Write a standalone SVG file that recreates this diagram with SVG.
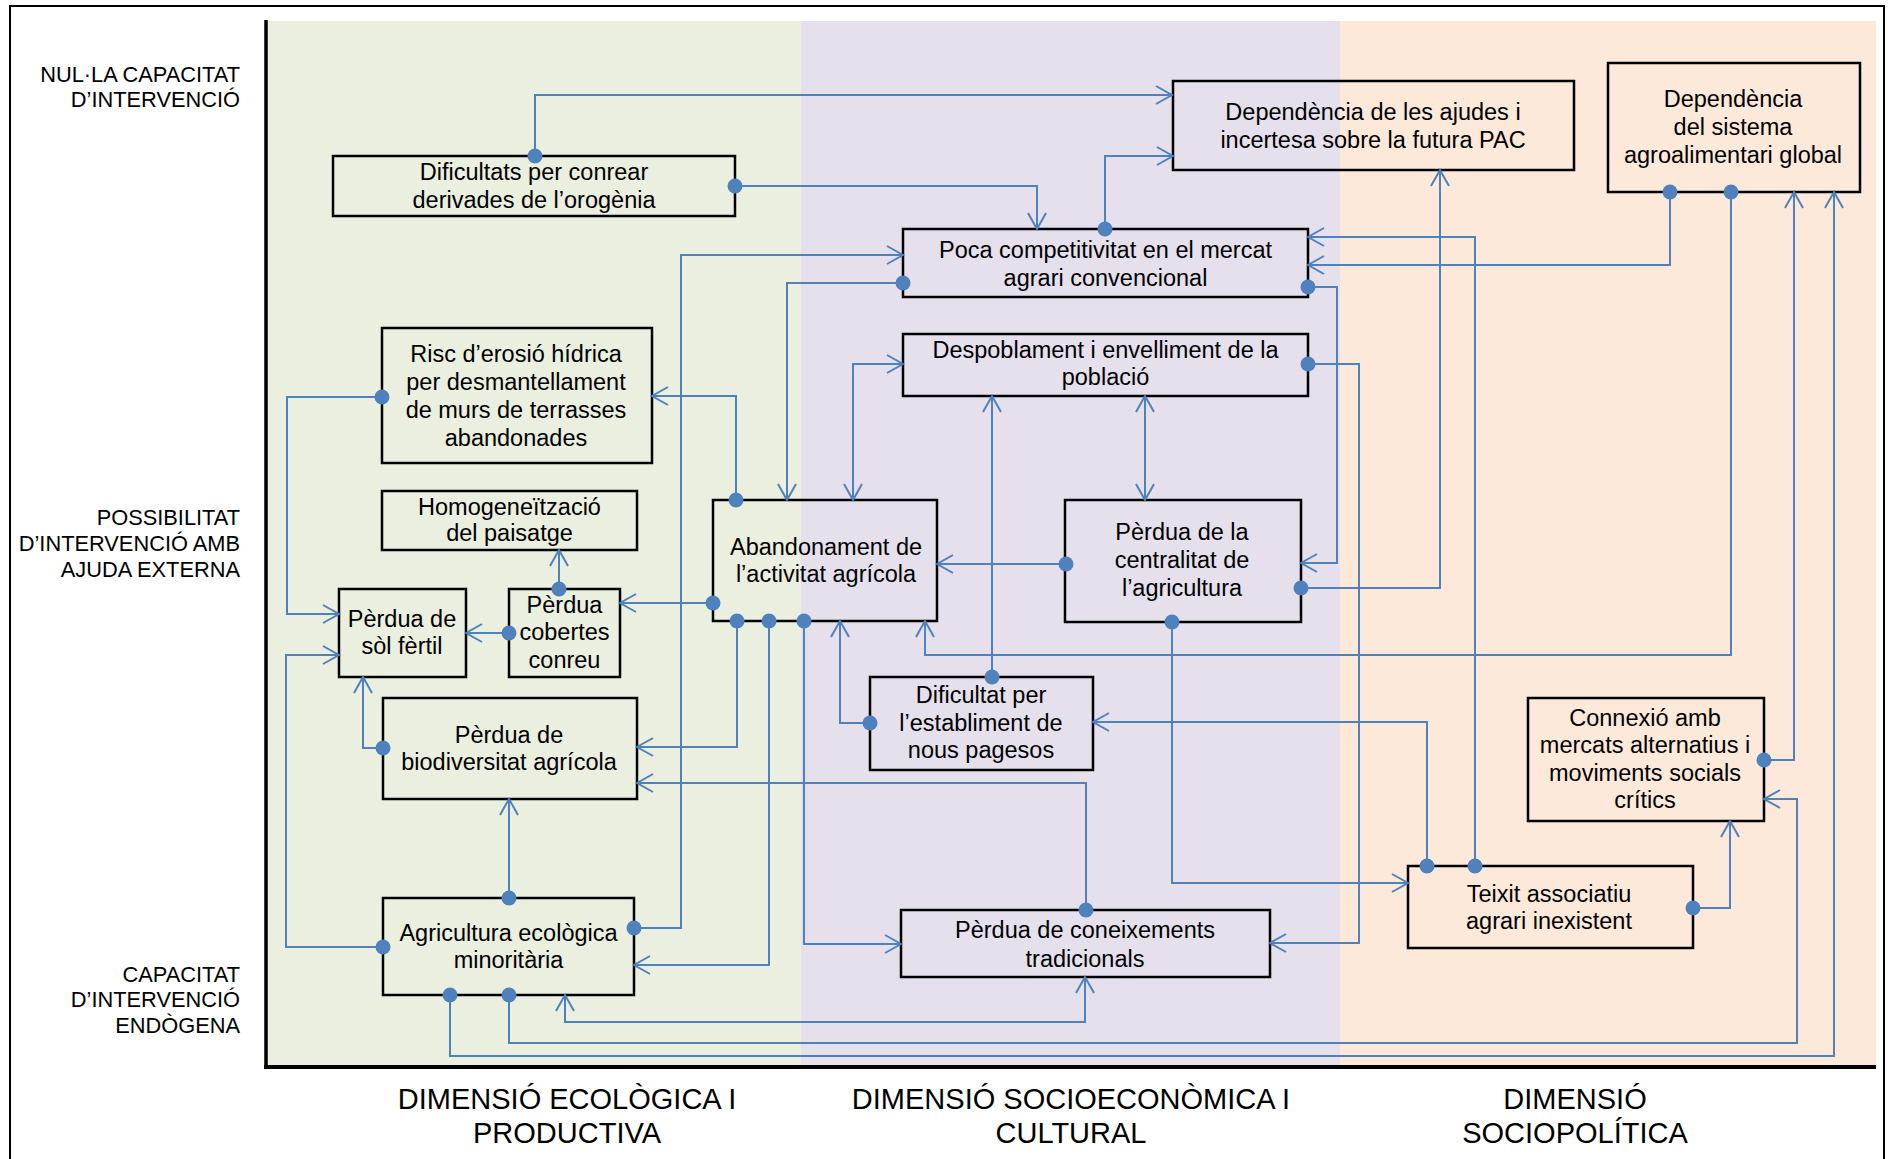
<svg xmlns="http://www.w3.org/2000/svg" width="1888" height="1159" viewBox="0 0 1888 1159">
<style>
.box{fill:none;stroke:#000;stroke-width:2.5}
.nt{font-family:"Liberation Sans",Arial,sans-serif;font-size:23.5px;fill:#000;text-anchor:middle}
.ax{font-family:"Liberation Sans",Arial,sans-serif;font-size:21.8px;fill:#000;text-anchor:end}
.dim{font-family:"Liberation Sans",Arial,sans-serif;font-size:29px;fill:#000;text-anchor:middle}
.c path{fill:none;stroke:#4F81BD;stroke-width:2;marker-start:url(#dot);marker-end:url(#arr)}
.c path.bi{marker-start:url(#arrs)}
</style>
<defs>
<marker id="arr" markerUnits="userSpaceOnUse" viewBox="0 0 20 20" markerWidth="20" markerHeight="20" refX="18" refY="10" orient="auto">
<path d="M2,1 L18,10 L2,19" fill="none" stroke="#4F81BD" stroke-width="2"/>
</marker>
<marker id="arrs" markerUnits="userSpaceOnUse" viewBox="0 0 20 20" markerWidth="20" markerHeight="20" refX="18" refY="10" orient="auto-start-reverse">
<path d="M2,1 L18,10 L2,19" fill="none" stroke="#4F81BD" stroke-width="2"/>
</marker>
<marker id="dot" markerUnits="userSpaceOnUse" viewBox="-9 -9 18 18" markerWidth="18" markerHeight="18" refX="0" refY="0" orient="auto">
<circle r="7.5" fill="#4F81BD"/>
</marker>
</defs>
<rect x="0" y="0" width="1888" height="1159" fill="#fff"/>
<rect x="10" y="6" width="1874" height="1170" fill="none" stroke="#000" stroke-width="2"/>
<g id="background">
<rect x="267" y="21" width="534" height="1045" fill="#EBEFDF"/>
<rect x="801" y="21" width="539" height="1045" fill="#E5E0EC"/>
<rect x="1340" y="21" width="536" height="1045" fill="#FDE9D9"/>
<line x1="266" y1="20" x2="266" y2="1069" stroke="#000" stroke-width="3.5"/>
<line x1="264" y1="1067" x2="1876" y2="1067" stroke="#000" stroke-width="4"/>
</g>
<g id="axis-labels">
<text class="ax" x="240" y="82">NUL·LA CAPACITAT</text>
<text class="ax" x="240" y="107">D’INTERVENCIÓ</text>
<text class="ax" x="240" y="525">POSSIBILITAT</text>
<text class="ax" x="240" y="551">D’INTERVENCIÓ AMB</text>
<text class="ax" x="240" y="577">AJUDA EXTERNA</text>
<text class="ax" x="240" y="982">CAPACITAT</text>
<text class="ax" x="240" y="1007">D’INTERVENCIÓ</text>
<text class="ax" x="240" y="1033">ENDÒGENA</text>
<text class="dim" x="567" y="1109">DIMENSIÓ ECOLÒGICA I</text>
<text class="dim" x="567" y="1143">PRODUCTIVA</text>
<text class="dim" x="1071" y="1109">DIMENSIÓ SOCIOECONÒMICA I</text>
<text class="dim" x="1071" y="1143">CULTURAL</text>
<text class="dim" x="1575" y="1109">DIMENSIÓ</text>
<text class="dim" x="1575" y="1143">SOCIOPOLÍTICA</text>
</g>
<g id="n-dificultats">
<rect class="box" x="333" y="156" width="402" height="60"/>
<text class="nt" x="534" y="180">Dificultats per conrear</text>
<text class="nt" x="534" y="207.5">derivades de l’orogènia</text>
</g>
<g id="n-risc">
<rect class="box" x="382" y="328" width="270" height="135"/>
<text class="nt" x="516" y="362">Risc d’erosió hídrica</text>
<text class="nt" x="516" y="390">per desmantellament</text>
<text class="nt" x="516" y="418">de murs de terrasses</text>
<text class="nt" x="516" y="446">abandonades</text>
</g>
<g id="n-homogeneitzacio">
<rect class="box" x="382" y="491" width="255" height="59"/>
<text class="nt" x="509.5" y="515">Homogeneïtzació</text>
<text class="nt" x="509.5" y="541">del paisatge</text>
</g>
<g id="n-sol">
<rect class="box" x="339" y="589" width="127" height="88"/>
<text class="nt" x="402" y="627">Pèrdua de</text>
<text class="nt" x="402" y="654">sòl fèrtil</text>
</g>
<g id="n-cobertes">
<rect class="box" x="509" y="589" width="111" height="88"/>
<text class="nt" x="564.5" y="613">Pèrdua</text>
<text class="nt" x="564.5" y="640">cobertes</text>
<text class="nt" x="564.5" y="668">conreu</text>
</g>
<g id="n-biodiversitat">
<rect class="box" x="383" y="698" width="254" height="101"/>
<text class="nt" x="509" y="743">Pèrdua de</text>
<text class="nt" x="509" y="770">biodiversitat agrícola</text>
</g>
<g id="n-agricultura">
<rect class="box" x="383" y="898" width="251" height="97"/>
<text class="nt" x="508.5" y="941">Agricultura ecològica</text>
<text class="nt" x="508.5" y="968">minoritària</text>
</g>
<g id="n-abandonament">
<rect class="box" x="713" y="500" width="224" height="121"/>
<text class="nt" x="826" y="555">Abandonament de</text>
<text class="nt" x="826" y="582">l’activitat agrícola</text>
</g>
<g id="n-poca">
<rect class="box" x="903" y="229" width="405" height="68"/>
<text class="nt" x="1105.5" y="258">Poca competitivitat en el mercat</text>
<text class="nt" x="1105.5" y="286">agrari convencional</text>
</g>
<g id="n-despoblament">
<rect class="box" x="903" y="334" width="405" height="62"/>
<text class="nt" x="1105.5" y="358">Despoblament i envelliment de la</text>
<text class="nt" x="1105.5" y="385">població</text>
</g>
<g id="n-centralitat">
<rect class="box" x="1065" y="500" width="236" height="122"/>
<text class="nt" x="1182" y="540">Pèrdua de la</text>
<text class="nt" x="1182" y="568">centralitat de</text>
<text class="nt" x="1182" y="596">l’agricultura</text>
</g>
<g id="n-establiment">
<rect class="box" x="870" y="677" width="223" height="93"/>
<text class="nt" x="981" y="703">Dificultat per</text>
<text class="nt" x="981" y="731">l’establiment de</text>
<text class="nt" x="981" y="758">nous pagesos</text>
</g>
<g id="n-coneixements">
<rect class="box" x="901" y="910" width="369" height="67"/>
<text class="nt" x="1085" y="938">Pèrdua de coneixements</text>
<text class="nt" x="1085" y="967">tradicionals</text>
</g>
<g id="n-ajudes">
<rect class="box" x="1173" y="81" width="401" height="89"/>
<text class="nt" x="1373" y="120">Dependència de les ajudes i</text>
<text class="nt" x="1373" y="148">incertesa sobre la futura PAC</text>
</g>
<g id="n-sistema">
<rect class="box" x="1608" y="63" width="252" height="129"/>
<text class="nt" x="1733" y="107">Dependència</text>
<text class="nt" x="1733" y="135">del sistema</text>
<text class="nt" x="1733" y="163">agroalimentari global</text>
</g>
<g id="n-connexio">
<rect class="box" x="1528" y="698" width="236" height="123"/>
<text class="nt" x="1645" y="725.5">Connexió amb</text>
<text class="nt" x="1645" y="753">mercats alternatius i</text>
<text class="nt" x="1645" y="780.5">moviments socials</text>
<text class="nt" x="1645" y="808">crítics</text>
</g>
<g id="n-teixit">
<rect class="box" x="1408" y="866" width="285" height="82"/>
<text class="nt" x="1549" y="902">Teixit associatiu</text>
<text class="nt" x="1549" y="929">agrari inexistent</text>
</g>
<g id="connectors" class="c">
<path d="M535,156 V95 H1172"/>
<path d="M735,186 H1037 V229"/>
<path d="M1105,229 V156 H1173"/>
<path d="M634,928 H681 V255 H903"/>
<path d="M903,283 H787 V500"/>
<path d="M736,500 V396 H652"/>
<path class="bi" d="M853,500 V364 H903"/>
<path class="bi" d="M1145,396 V500"/>
<path d="M992,677 V396"/>
<path d="M1308,287 H1337 V563 H1301"/>
<path d="M1308,364 H1359 V943 H1270"/>
<path d="M1301,588 H1440 V170"/>
<path d="M1066,564 H937"/>
<path d="M1670,192 V265 H1308"/>
<path d="M1475,866 V237 H1308"/>
<path d="M1731,192 V655 H925 V621"/>
<path d="M1764,760 H1794 V192"/>
<path d="M450,995 V1056 H1834 V192"/>
<path d="M509,995 V1043 H1797 V799 H1764"/>
<path class="bi" d="M565,995 V1022 H1085 V977"/>
<path d="M509,898 V799"/>
<path d="M383,947 H286 V655 H339"/>
<path d="M382,397 H287 V614 H339"/>
<path d="M383,748 H363 V677"/>
<path d="M509,633 H466"/>
<path d="M559,589 V550"/>
<path d="M713,603 H620"/>
<path d="M737,621 V747 H637"/>
<path d="M769,621 V965 H634"/>
<path d="M804,621 V944 H901"/>
<path d="M1086,910 V783 H637"/>
<path d="M870,723 H840 V621"/>
<path d="M1172,622 V883 H1408"/>
<path d="M1427,866 V722 H1093"/>
<path d="M1693,908 H1730 V821"/>
</g>
</svg>
